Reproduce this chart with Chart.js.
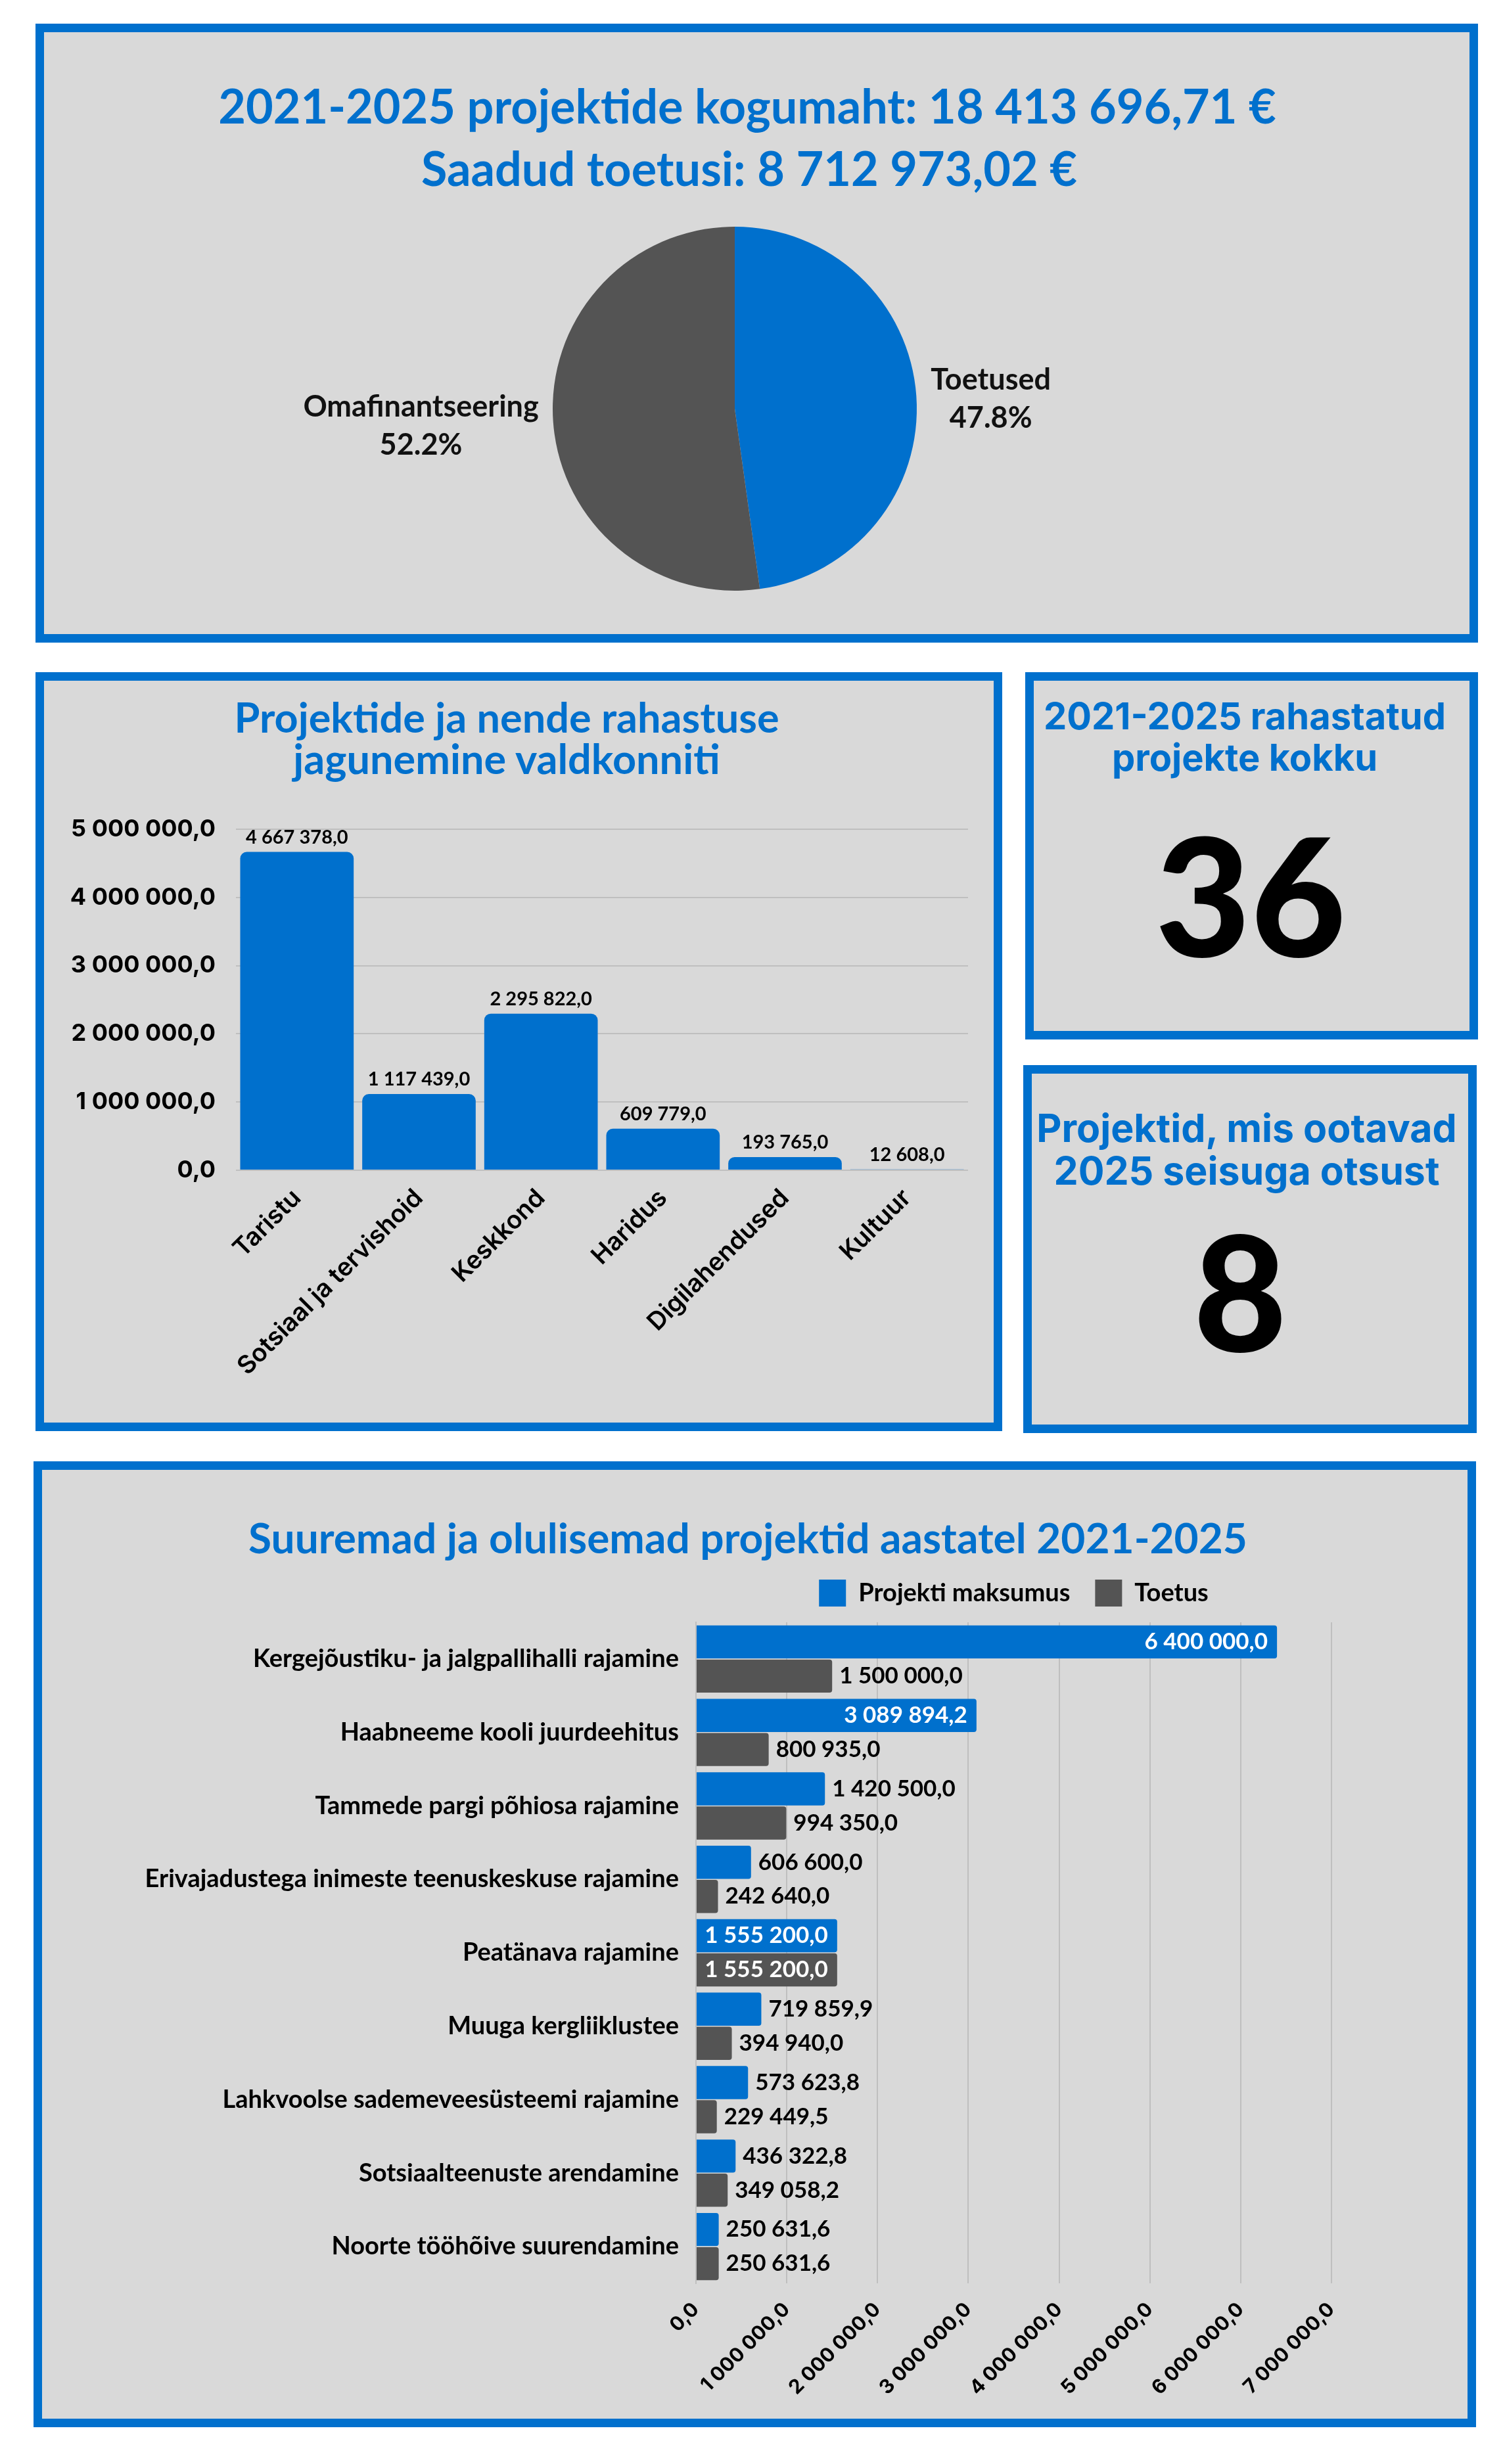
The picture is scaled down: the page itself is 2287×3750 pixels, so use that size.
<!DOCTYPE html>
<html><head><meta charset="utf-8">
<script src="https://cdn.jsdelivr.net/npm/chart.js@4.4.1/dist/chart.umd.min.js"></script>
<style>
html,body{margin:0;padding:0;background:#fff;}
#page{position:relative;width:2287px;height:3750px;overflow:hidden;background:#fff;}
.panel{position:absolute;box-sizing:border-box;border:13px solid #0070CD;background:#D9D9D9;}
.t{position:absolute;color:#0070CD;white-space:nowrap;transform:translate(-50%,-50%);line-height:1;}
.ral{font-family:Lato,'Noto Sans',sans-serif;font-weight:700;}
.mon{font-family:Inter,'Noto Sans',sans-serif;font-weight:700;}
.big{position:absolute;color:#000;font-family:Lato,sans-serif;font-weight:900;transform:translate(-50%,-50%);line-height:1;white-space:nowrap;}
canvas{position:absolute;}
</style></head><body><div id="page">
<div class="panel" style="left:54px;top:36px;width:2195px;height:942px"></div>
<div class="panel" style="left:54px;top:1023px;width:1471px;height:1155px"></div>
<div class="panel" style="left:1560px;top:1023px;width:689px;height:559px"></div>
<div class="panel" style="left:1557px;top:1621px;width:690px;height:560px"></div>
<div class="panel" style="left:51px;top:2224px;width:2195px;height:1470px"></div>

<div class="t ral" style="left:1137px;top:160px;font-size:72px">2021-2025 projektide kogumaht: 18 413 696,71 €</div>
<div class="t ral" style="left:1140px;top:255px;font-size:72px">Saadud toetusi: 8 712 973,02 €</div>

<div class="t ral" style="left:771px;top:1090px;font-size:63px">Projektide ja nende rahastuse</div>
<div class="t ral" style="left:771px;top:1153px;font-size:63px">jagunemine valdkonniti</div>

<div class="t mon" style="left:1894px;top:1090px;font-size:56px">2021-2025 rahastatud</div>
<div class="t mon" style="left:1894px;top:1153px;font-size:56px">projekte kokku</div>
<div class="big" style="left:1903px;top:1359px;font-size:250px">36</div>

<div class="t mon" style="left:1897px;top:1716px;font-size:59px">Projektid, mis ootavad</div>
<div class="t mon" style="left:1897px;top:1781px;font-size:59px">2025 seisuga otsust</div>
<div class="big" style="left:1887px;top:1962px;font-size:245px">8</div>

<div class="t ral" style="left:1138px;top:2340px;font-size:64px">Suuremad ja olulisemad projektid aastatel 2021-2025</div>

<canvas id="c1" width="2168" height="590" style="left:67px;top:330px"></canvas>
<canvas id="c2" width="1445" height="965" style="left:67px;top:1200px"></canvas>
<canvas id="c5" width="2168" height="1320" style="left:64px;top:2360px"></canvas>
</div>
<script>
// ---- data ----
const pieLabels = ['Toetused', 'Omafinantseering'];
const piePercents = [47.8, 52.2];

const sectorLabels = ['Taristu', 'Sotsiaal ja tervishoid', 'Keskkond', 'Haridus', 'Digilahendused', 'Kultuur'];
const sectorValues = [4667378.0, 1117439.0, 2295822.0, 609779.0, 193765.0, 12608.0];
const sectorAxisMax = 5000000;
const sectorAxisStep = 1000000;

const projectNames = [
  'Kergejõustiku- ja jalgpallihalli rajamine',
  'Haabneeme kooli juurdeehitus',
  'Tammede pargi põhiosa rajamine',
  'Erivajadustega inimeste teenuskeskuse rajamine',
  'Peatänava rajamine',
  'Muuga kergliiklustee',
  'Lahkvoolse sademeveesüsteemi rajamine',
  'Sotsiaalteenuste arendamine',
  'Noorte tööhõive suurendamine'
];
const seriesNames = ['Projekti maksumus', 'Toetus'];
const projectCost = [6400000.0, 3089894.2, 1420500.0, 606600.0, 1555200.0, 719859.9, 573623.8, 436322.8, 250631.6];
const projectGrant = [1500000.0, 800935.0, 994350.0, 242640.0, 1555200.0, 394940.0, 229449.5, 349058.2, 250631.6];
const projectAxisMax = 7000000;
const projectAxisStep = 1000000;

// ---- helpers ----
const BLUE = '#0070CD', GRAY = '#545454', GRID = '#BFBFBF';
function fmtNum(v){
  const s = Number(v).toFixed(1);
  const [i, d] = s.split('.');
  return i.replace(/\B(?=(\d{3})+(?!\d))/g, ' ') + ',' + d;
}

const pieLabelPlugin = {
  id: 'pieLabels',
  afterDatasetsDraw(chart){
    const ctx = chart.ctx;
    const meta = chart.getDatasetMeta(0);
    ctx.save();
    ctx.font = '700 45px Lato';
    ctx.fillStyle = '#111';
    ctx.textBaseline = 'middle';
    ctx.textAlign = 'center';
    meta.data.forEach((arc, i) => {
      const p = arc.getProps(['x','y','startAngle','endAngle','outerRadius'], true);
      const a = (p.startAngle + p.endAngle) / 2;
      const R = p.outerRadius + 22;
      const ax = p.x + Math.cos(a) * R, ay = p.y + Math.sin(a) * R;
      const lines = [chart.data.labels[i], chart.data.datasets[0].data[i].toFixed(1) + '%'];
      const w = Math.max(...lines.map(l => ctx.measureText(l).width));
      const cx = Math.cos(a) >= 0 ? ax + w / 2 : ax - w / 2;
      const lh = 58;
      lines.forEach((l, j) => ctx.fillText(l, cx, ay + 6 + (j - (lines.length - 1) / 2) * lh));
    });
    ctx.restore();
  }
};

const barTopLabels = {
  id: 'barTop',
  afterDatasetsDraw(chart){
    const ctx = chart.ctx;
    ctx.save();
    ctx.font = '700 29px Lato';
    ctx.fillStyle = '#000';
    ctx.textAlign = 'center';
    ctx.textBaseline = 'alphabetic';
    const ds = chart.data.datasets[0];
    chart.getDatasetMeta(0).data.forEach((bar, i) => {
      const p = bar.getProps(['x','y'], true);
      ctx.fillText(fmtNum(ds.data[i]), p.x, p.y - 13);
    });
    ctx.restore();
  }
};

const hbarLabels = {
  id: 'hbarLabels',
  afterDatasetsDraw(chart){
    const ctx = chart.ctx;
    ctx.save();
    ctx.font = '700 35px Lato';
    ctx.textBaseline = 'middle';
    chart.data.datasets.forEach((ds, di) => {
      chart.getDatasetMeta(di).data.forEach((bar, i) => {
        const v = ds.data[i];
        const p = bar.getProps(['x','y'], true);
        if (v > 1550000) {
          ctx.fillStyle = '#fff'; ctx.textAlign = 'right';
          ctx.fillText(fmtNum(v), p.x - 14, p.y);
        } else {
          ctx.fillStyle = '#000'; ctx.textAlign = 'left';
          ctx.fillText(fmtNum(v), p.x + 11, p.y);
        }
      });
    });
    ctx.restore();
  }
};

// ---- pie ----
new Chart(document.getElementById('c1'), {
  type: 'pie',
  data: { labels: pieLabels, datasets: [{ data: piePercents, backgroundColor: [BLUE, GRAY], borderWidth: 0 }] },
  options: {
    responsive: false, animation: false,
    layout: { padding: { left: 774, right: 840, top: 15, bottom: 21 } },
    plugins: { legend: { display: false }, tooltip: { enabled: false } }
  },
  plugins: [pieLabelPlugin]
});

// ---- vertical bar ----
new Chart(document.getElementById('c2'), {
  type: 'bar',
  data: { labels: sectorLabels, datasets: [{
    data: sectorValues, backgroundColor: BLUE,
    borderRadius: { topLeft: 10, topRight: 10 }, borderSkipped: 'bottom',
    barPercentage: 0.93, categoryPercentage: 1
  }]},
  options: {
    responsive: false, animation: false,
    layout: { padding: { top: 62, right: 39, left: 0, bottom: 0 } },
    plugins: { legend: { display: false }, tooltip: { enabled: false } },
    scales: {
      x: {
        grid: { display: false }, border: { display: false },
        ticks: { autoSkip: false, minRotation: 45, maxRotation: 45, color: '#000',
                 font: { family: 'Inter', weight: '600', size: 38 }, padding: 12 },
        afterFit(s){ s.height = 384; }
      },
      y: {
        min: 0, max: sectorAxisMax,
        ticks: { stepSize: sectorAxisStep, color: '#000', font: { family: 'Inter', weight: '700', size: 36 },
                 padding: 31, callback: v => fmtNum(v) },
        grid: { color: GRID, lineWidth: 2, drawTicks: false },
        border: { display: false },
        afterFit(s){ s.width = 292; }
      }
    }
  },
  plugins: [barTopLabels]
});

// ---- horizontal grouped bar ----
new Chart(document.getElementById('c5'), {
  type: 'bar',
  data: { labels: projectNames, datasets: [
    { label: seriesNames[0], data: projectCost, backgroundColor: BLUE, borderRadius: 4, borderSkipped: 'start',
      categoryPercentage: 0.93, barPercentage: 0.97 },
    { label: seriesNames[1], data: projectGrant, backgroundColor: GRAY, borderRadius: 4, borderSkipped: 'start',
      categoryPercentage: 0.93, barPercentage: 0.97 }
  ]},
  options: {
    indexAxis: 'y', responsive: false, animation: false,
    layout: { padding: { top: 6, right: 206, left: 0, bottom: 0 } },
    plugins: {
      legend: { display: true, position: 'top', align: 'center', fullSize: false,
        labels: { boxWidth: 41, boxHeight: 41, padding: 38, color: '#000',
                  font: { family: 'Lato', weight: '700', size: 38 } } },
      tooltip: { enabled: false }
    },
    scales: {
      x: {
        min: 0, max: projectAxisMax,
        ticks: { stepSize: projectAxisStep, autoSkip: false, minRotation: 45, maxRotation: 45, color: '#000',
                 font: { family: 'Inter', weight: '700', size: 30 }, callback: v => fmtNum(v), padding: 22 },
        grid: { color: GRID, lineWidth: 2, drawTicks: false },
        border: { display: false },
        afterFit(s){ s.height = 205; }
      },
      gap: {
        axis: 'x', position: 'top', display: true,
        grid: { display: false, drawTicks: false }, border: { display: false }, ticks: { display: false },
        afterFit(s){ s.height = 14; }
      },
      y: {
        ticks: { color: '#000', font: { family: 'Lato', weight: '700', size: 38 }, padding: 26, autoSkip: false },
        grid: { display: false, drawTicks: false },
        border: { display: true, color: GRID, width: 2 },
        afterFit(s){ s.width = 995; }
      }
    }
  },
  plugins: [hbarLabels]
});
</script>
</body></html>
